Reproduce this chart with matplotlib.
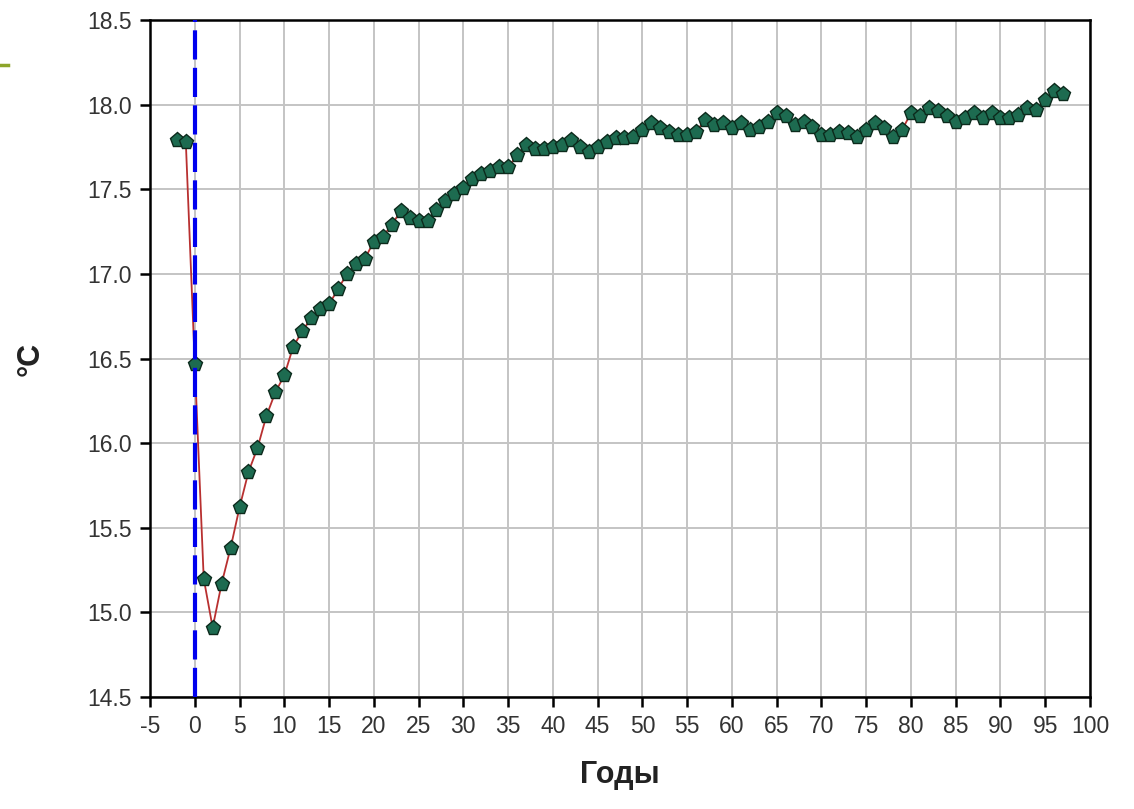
import matplotlib
matplotlib.use("Agg")
import matplotlib.pyplot as plt
from matplotlib.lines import Line2D

plt.rcParams['font.family'] = ['Liberation Sans', 'DejaVu Sans']
plt.rcParams['axes.unicode_minus'] = False

# years relative to the event, mean temperature
years = list(range(-2, 98))
temps = [
    17.79, 17.78, 16.47, 15.20, 14.91, 15.17, 15.38, 15.62, 15.83, 15.97,
    16.16, 16.30, 16.40, 16.57, 16.66, 16.74, 16.79, 16.82, 16.91, 17.00,
    17.06, 17.09, 17.19, 17.22, 17.29, 17.37, 17.33, 17.31, 17.31, 17.38,
    17.43, 17.47, 17.51, 17.56, 17.59, 17.61, 17.63, 17.63, 17.70, 17.76,
    17.74, 17.74, 17.75, 17.76, 17.79, 17.75, 17.72, 17.75, 17.78, 17.80,
    17.80, 17.81, 17.85, 17.89, 17.86, 17.84, 17.82, 17.82, 17.84, 17.91,
    17.88, 17.89, 17.86, 17.89, 17.85, 17.87, 17.90, 17.95, 17.93, 17.88,
    17.90, 17.87, 17.82, 17.82, 17.84, 17.83, 17.81, 17.85, 17.89, 17.86,
    17.81, 17.85, 17.95, 17.93, 17.98, 17.96, 17.93, 17.90, 17.92, 17.95,
    17.92, 17.95, 17.92, 17.92, 17.94, 17.98, 17.97, 18.03, 18.08, 18.06,
]
xticks = list(range(-5, 101, 5))
yticks = [14.5, 15.0, 15.5, 16.0, 16.5, 17.0, 17.5, 18.0, 18.5]

fig = plt.figure(figsize=(11.34, 8.09), dpi=100)
ax = fig.add_axes([150 / 1134, 1 - 697 / 809, 940 / 1134, 677 / 809])

ax.plot(years, temps, color='#b83030', lw=1.3, zorder=3,
        marker='p', ms=11, mfc='#1d6b50', mec='#0c2a1c', mew=1.0)
ax.axvline(0, color='#0000ee', lw=3, dashes=(7, 2), zorder=4)

ax.set_xlim(-5, 100)
ax.set_ylim(14.5, 18.5)
ax.set_xticks(xticks)
ax.set_yticks(yticks)
ax.set_yticklabels([f"{v:.1f}" for v in yticks])
ax.grid(True, color='#c4c4c4', lw=1.4)
ax.set_axisbelow(True)
for s in ax.spines.values():
    s.set_linewidth(1.8)
ax.tick_params(direction='out', length=7, width=1.8, labelsize=16.5,
               colors='black', labelcolor='#333333', pad=6)

ax.set_xlabel('Годы', fontsize=22, fontweight='bold', color='#222222', labelpad=16)
ax.set_ylabel('°C', fontsize=22, fontweight='bold', color='#222222', labelpad=30)

# little green mark from the slide at top left
fig.add_artist(Line2D([0, 8 / 1134], [1 - 65 / 809, 1 - 65 / 809],
                      color='#8da52a', lw=2.5))

fig.savefig('out.png', dpi=100)
